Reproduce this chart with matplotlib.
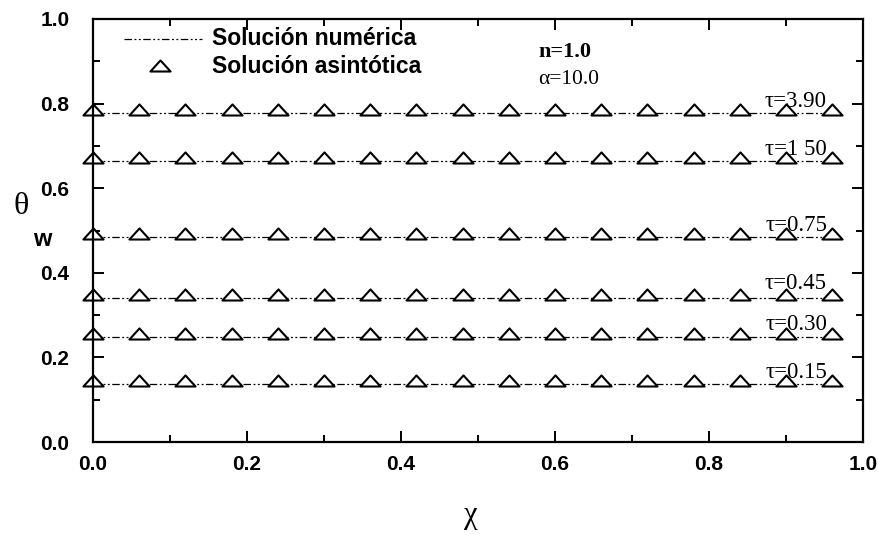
import matplotlib
matplotlib.use('Agg')
import matplotlib.pyplot as plt
from matplotlib.path import Path
from matplotlib.ticker import MultipleLocator

# curve data: wall temperature along the plate for each time tau
chi = [0.06 * i for i in range(17)]
tau_labels = ['τ=3.90', 'τ=1 50', 'τ=0.75', 'τ=0.45', 'τ=0.30', 'τ=0.15']
theta_w = [0.778, 0.665, 0.485, 0.341, 0.248, 0.136]

SANS = 'Liberation Sans'
SERIF = 'Liberation Serif'

# flat open triangle sitting on the curve
TRI = Path([(-1, -0.2), (1, -0.2), (0, 0.9), (-1, -0.2)],
           [Path.MOVETO, Path.LINETO, Path.LINETO, Path.CLOSEPOLY])
DASH = (6, 2, 1.5, 2, 1.5, 2)
MK = dict(linestyle='none', marker=TRI, markersize=14.5,
          markerfacecolor='white', markeredgecolor='black',
          markeredgewidth=1.5)

fig = plt.figure(figsize=(8.79, 5.35), dpi=100)
ax = fig.add_axes([0.1058, 0.1738, 0.876, 0.7907])

for theta in theta_w:
    ax.plot(chi, [theta] * len(chi), color='black', lw=0.9, dashes=DASH)
    ax.plot(chi, [theta] * len(chi), clip_on=False, **MK)

label_y = [0.806, 0.692, 0.513, 0.375, 0.278, 0.165]
for txt, y in zip(tau_labels, label_y):
    ax.text(0.913, y, txt, fontsize=16.5, family=SERIF, ha='center', va='center')

# legend drawn by hand
ax.plot([0.04, 0.142], [0.953, 0.953], color='black', lw=0.9, dashes=DASH)
ax.plot([0.087], [0.882], **MK)
ax.text(0.155, 0.953, 'Solución numérica', fontsize=16.5, family=SANS,
        fontweight='bold', va='center')
ax.text(0.155, 0.887, 'Solución asintótica', fontsize=16.5, family=SANS,
        fontweight='bold', va='center')
ax.text(0.578, 0.922, 'n=1.0', fontsize=16, family=SERIF, fontweight='bold',
        va='center')
ax.text(0.578, 0.856, 'α=10.0', fontsize=15.5, family=SERIF, va='center')

ax.set_xlim(0, 1)
ax.set_ylim(0, 1)
ax.xaxis.set_major_locator(MultipleLocator(0.2))
ax.xaxis.set_minor_locator(MultipleLocator(0.1))
ax.yaxis.set_major_locator(MultipleLocator(0.2))
ax.yaxis.set_minor_locator(MultipleLocator(0.1))
ax.tick_params(which='both', direction='in', top=True, right=True, width=1.4)
ax.tick_params(which='major', length=8)
ax.tick_params(which='minor', length=5)
ax.tick_params(axis='x', which='major', pad=9)
ax.tick_params(axis='y', which='major', pad=17)
for lab in ax.get_xticklabels() + ax.get_yticklabels():
    lab.set_fontfamily(SANS)
    lab.set_fontweight('bold')
    lab.set_fontsize(15)
for sp in ax.spines.values():
    sp.set_linewidth(1.6)

fig.text(21 / 879, 1 - 206 / 535, 'θ', fontsize=23, family=SERIF,
         ha='center', va='center')
fig.text(42 / 879, 1 - 240 / 535, 'w', fontsize=17, family=SANS,
         fontweight='bold', ha='center', va='center')
fig.text(471 / 879, 1 - 516 / 535, 'χ', fontsize=22, family=SERIF,
         ha='center', va='center')

fig.savefig('out.png', dpi=100)
